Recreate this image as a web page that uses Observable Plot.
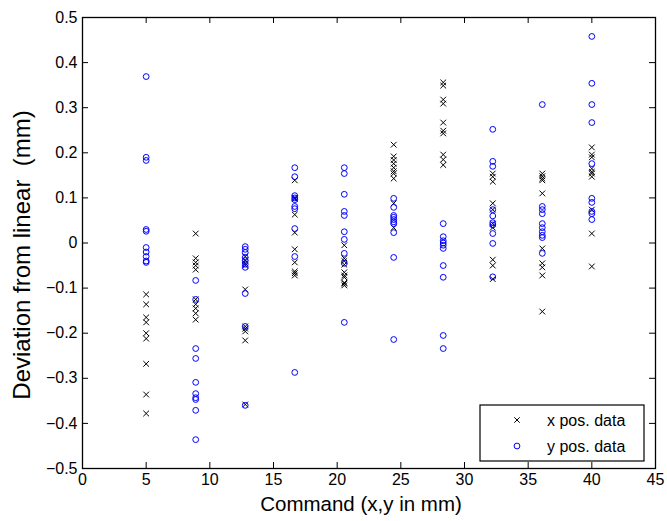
<!DOCTYPE html>
<html>
<head>
<meta charset="utf-8">
<script src="https://cdn.jsdelivr.net/npm/d3@7"></script>
<script src="https://cdn.jsdelivr.net/npm/@observablehq/plot@0.6"></script>
<style>
  html, body { margin: 0; padding: 0; background: #fff; }
  #chart svg { display: block; font-family: "Liberation Sans", Arial, Helvetica, sans-serif; }
</style>
</head>
<body>
<div id="chart"></div>
<script>
// Command positions (mm)
const commands = [5, 8.89, 12.78, 16.67, 20.56, 24.44, 28.33, 32.22, 36.11, 40];

// x position deviations (mm), one list per command
const xDev = [
  [-0.114, -0.136, -0.165, -0.176, -0.2, -0.212, -0.268, -0.336, -0.378],
  [0.021, -0.034, -0.043, -0.05, -0.059, -0.125, -0.136, -0.145, -0.156, -0.17],
  [-0.03, -0.038, -0.045, -0.05, -0.103, -0.185, -0.19, -0.196, -0.216, -0.358],
  [0.139, 0.1, 0.098, 0.063, 0.023, -0.014, -0.043, -0.063, -0.067, -0.072],
  [-0.005, -0.034, -0.04, -0.048, -0.065, -0.072, -0.076, -0.088, -0.09, -0.094],
  [0.218, 0.192, 0.184, 0.176, 0.167, 0.159, 0.154, 0.143, 0.088, 0.034],
  [0.356, 0.349, 0.318, 0.309, 0.267, 0.249, 0.243, 0.196, 0.185, 0.173],
  [0.154, 0.147, 0.136, 0.088, 0.074, 0.043, 0.034, -0.037, -0.05, -0.08],
  [0.154, 0.148, 0.143, 0.139, 0.11, -0.012, -0.045, -0.054, -0.072, -0.152],
  [0.212, 0.196, 0.19, 0.165, 0.158, 0.154, 0.147, 0.074, 0.021, -0.052]
];

// y position deviations (mm), one list per command
const yDev = [
  [0.369, 0.19, 0.183, 0.03, 0.026, -0.01, -0.02, -0.03, -0.04, -0.043],
  [-0.083, -0.125, -0.234, -0.256, -0.309, -0.334, -0.343, -0.347, -0.371, -0.436],
  [-0.008, -0.014, -0.021, -0.032, -0.039, -0.047, -0.054, -0.112, -0.185, -0.36],
  [0.167, 0.147, 0.105, 0.1, 0.096, 0.081, 0.076, 0.032, -0.03, -0.287],
  [0.167, 0.154, 0.108, 0.07, 0.061, 0.025, 0.008, -0.023, -0.045, -0.176],
  [0.099, 0.079, 0.061, 0.057, 0.052, 0.047, 0.043, 0.023, -0.032, -0.214],
  [0.043, 0.014, 0.005, 0.0, -0.005, -0.012, -0.05, -0.076, -0.205, -0.234],
  [0.252, 0.181, 0.17, 0.074, 0.06, 0.045, 0.04, 0.021, -0.001, -0.075],
  [0.307, 0.081, 0.074, 0.065, 0.043, 0.034, 0.025, 0.017, 0.012, -0.023],
  [0.458, 0.354, 0.307, 0.267, 0.176, 0.099, 0.09, 0.07, 0.065, 0.052]
];

const xTicks = [0, 5, 10, 15, 20, 25, 30, 35, 40, 45];
const yTicks = [-0.5, -0.4, -0.3, -0.2, -0.1, 0, 0.1, 0.2, 0.3, 0.4, 0.5];
const seriesNames = ["x pos. data", "y pos. data"];
const xLabel = "Command (x,y in mm)";
const yLabel = "Deviation from linear  (mm)";

const xPts = commands.flatMap((c, i) => xDev[i].map(v => ({cmd: c, dev: v})));
const yPts = commands.flatMap((c, i) => yDev[i].map(v => ({cmd: c, dev: v})));

const fmtY = d => d === 0 ? "0" : d.toFixed(1).replace("-", "\u2212");

const W = 667, H = 521;
const mL = 82, mR = 12, mT = 17, mB = 53;
const tickLen = 6;
const xPerPx = 45 / (W - mL - mR);
const yPerPx = 1 / (H - mT - mB);

const chart = Plot.plot({
  width: W,
  height: H,
  marginLeft: mL,
  marginRight: mR,
  marginTop: mT,
  marginBottom: mB,
  style: {fontFamily: '"Liberation Sans", Arial, Helvetica, sans-serif', background: "#fff"},
  x: {domain: [0, 45]},
  y: {domain: [-0.5, 0.5]},
  marks: [
    // inward tick marks on all four sides
    Plot.ruleX(xTicks, {x: d => d, y1: -0.5, y2: -0.5 + tickLen * yPerPx, stroke: "#000", strokeWidth: 1}),
    Plot.ruleX(xTicks, {x: d => d, y1: 0.5, y2: 0.5 - tickLen * yPerPx, stroke: "#000", strokeWidth: 1}),
    Plot.ruleY(yTicks, {y: d => d, x1: 0, x2: tickLen * xPerPx, stroke: "#000", strokeWidth: 1}),
    Plot.ruleY(yTicks, {y: d => d, x1: 45, x2: 45 - tickLen * xPerPx, stroke: "#000", strokeWidth: 1}),
    Plot.axisX({ticks: xTicks, tickSize: 0, tickPadding: 5, fontSize: 16, label: null, tickFormat: d => String(d)}),
    Plot.axisY({ticks: yTicks, tickSize: 0, tickPadding: 5, fontSize: 16, label: null, tickFormat: fmtY}),
    Plot.dot(xPts, {x: "cmd", y: "dev", symbol: "times", r: 2.7, stroke: "#000", strokeWidth: 1}),
    Plot.dot(yPts, {x: "cmd", y: "dev", symbol: "circle", r: 2.9, stroke: "#0000ff", fill: "none", strokeWidth: 1}),
    Plot.frame({stroke: "#000", strokeWidth: 1.3}),
    Plot.text([xLabel], {frameAnchor: "bottom", dx: -8, dy: 42, fontSize: 20.5, fill: "#000", text: d => d, textAnchor: "middle"}),
    Plot.text([yLabel], {frameAnchor: "left", dx: -60, dy: 12, rotate: -90, fontSize: 24, fill: "#000", text: d => d, textAnchor: "middle"})
  ]
});

// Legend (inside the plot area, bottom-right, like MATLAB)
const svg = d3.select(chart);
const lg = svg.append("g").attr("class", "legend").attr("text-anchor", "start");
const bx = 480, by = 405, bw = 164, bh = 56;
lg.append("rect").attr("x", bx).attr("y", by).attr("width", bw).attr("height", bh)
  .attr("fill", "#fff").attr("stroke", "#000").attr("stroke-width", 1.2);
seriesNames.forEach((name, i) => {
  const cy = by + 15 + i * 26;
  const cx = bx + 37;
  if (i === 0) {
    const s = 2.7;
    lg.append("path").attr("d", `M${cx - s},${cy - s}L${cx + s},${cy + s}M${cx - s},${cy + s}L${cx + s},${cy - s}`)
      .attr("stroke", "#000").attr("stroke-width", 1).attr("fill", "none");
  } else {
    lg.append("circle").attr("cx", cx).attr("cy", cy).attr("r", 2.9)
      .attr("stroke", "#0000ff").attr("fill", "none").attr("stroke-width", 1);
  }
  lg.append("text").attr("x", bx + 67).attr("y", cy).attr("dy", "0.35em")
    .attr("text-anchor", "start").attr("font-size", 16).attr("fill", "#000").text(name);
});

document.getElementById("chart").appendChild(chart);
</script>
</body>
</html>
